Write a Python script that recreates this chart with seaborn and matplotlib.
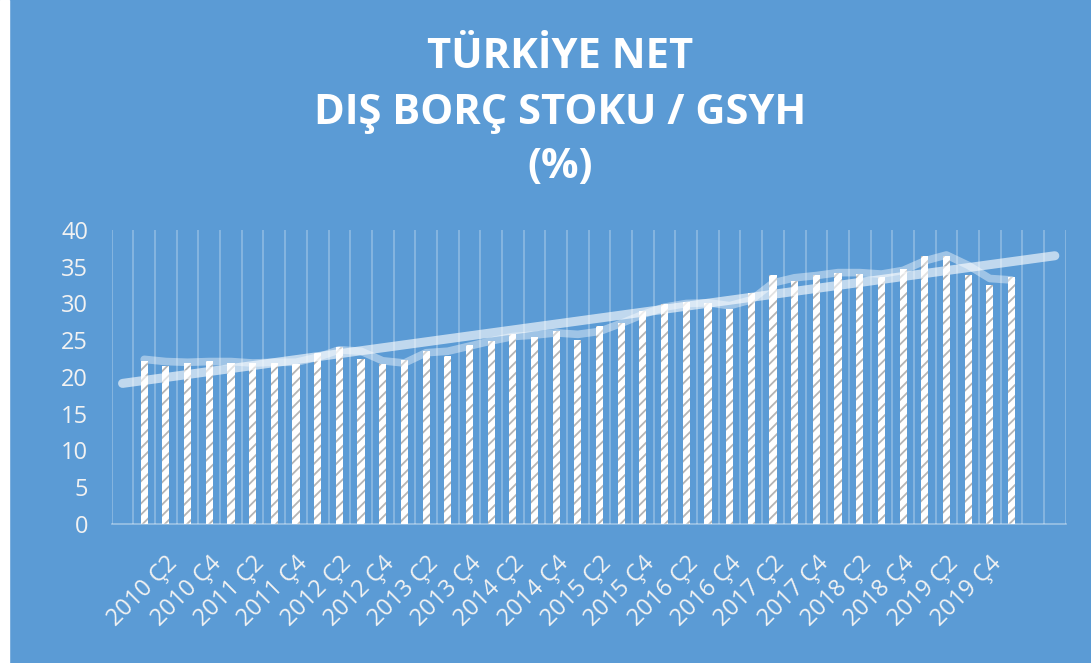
import numpy as np
import pandas as pd
import matplotlib
matplotlib.use('Agg')
import matplotlib.pyplot as plt
from matplotlib.patches import Rectangle
import seaborn as sns

sns.set_style('white')
plt.rcParams['font.family'] = ['Open Sans', 'DejaVu Sans']
plt.rcParams['hatch.linewidth'] = 1.3

bg = '#5B9BD5'
txt = '#F2F2F2'

# quarterly values, 2010 Ç1 .. 2020 Ç1 (slots 1..41)
bar_values = [22.2, 21.5, 21.9, 22.2, 21.9, 21.9, 21.9, 21.7, 23.2, 24.1,
              22.5, 21.8, 22.3, 23.5, 22.9, 24.4, 24.9, 25.9, 25.5, 26.3,
              25.1, 26.9, 27.3, 29.0, 29.9, 30.2, 30.0, 29.3, 31.4, 33.9,
              33.1, 33.9, 34.2, 34.0, 33.6, 34.7, 36.5, 36.5, 33.9, 32.5,
              33.6]
# smoothed line
line_values = [22.4, 22.1, 22.0, 22.1, 22.1, 21.9, 22.0, 22.0, 22.7, 23.7,
               23.5, 22.2, 21.9, 23.3, 23.5, 24.2, 24.9, 25.5, 25.7, 26.0,
               25.8, 26.2, 27.3, 28.5, 29.5, 30.0, 30.1, 29.7, 30.5, 32.8,
               33.5, 33.8, 34.2, 34.2, 34.0, 34.5, 35.8, 36.6, 35.2, 33.4,
               33.2]
slots = list(range(1, 42))
tick_slots = list(range(2, 41, 2))
tick_labels = ['2010 Ç2', '2010 Ç4', '2011 Ç2', '2011 Ç4', '2012 Ç2',
               '2012 Ç4', '2013 Ç2', '2013 Ç4', '2014 Ç2', '2014 Ç4',
               '2015 Ç2', '2015 Ç4', '2016 Ç2', '2016 Ç4', '2017 Ç2',
               '2017 Ç4', '2018 Ç2', '2018 Ç4', '2019 Ç2', '2019 Ç4']
n_slots = 44  # one slot back, two forward for the trend

df = pd.DataFrame({'slot': slots, 'value': bar_values, 'line': line_values})

fig = plt.figure(figsize=(10.91, 6.63), dpi=100, facecolor=bg)
fig.patches.append(Rectangle((0, 0), 9 / 1091, 1, transform=fig.transFigure,
                             color='white', zorder=-1))
ax = fig.add_axes([0.1024, 0.2097, 0.8744, 0.4434])
ax.set_facecolor(bg)

sns.barplot(data=df, x='slot', y='value', native_scale=True, width=0.33,
            color='white', edgecolor='#B5B5B5', linewidth=0, hatch='///',
            saturation=1, ax=ax, zorder=2)
sns.lineplot(data=df, x='slot', y='line', color='white', alpha=0.42,
             linewidth=5.5, solid_capstyle='round', ax=ax, zorder=3)
ax.set_xlim(0, n_slots - 1)
sns.regplot(data=df, x='slot', y='value', scatter=False, ci=None,
            truncate=False, ax=ax,
            line_kws=dict(color='white', alpha=0.62, linewidth=6.5,
                          solid_capstyle='round', zorder=4))

ax.set_xlim(-0.5, n_slots - 0.5)
ax.set_ylim(0, 40)
ax.set_yticks(range(0, 41, 5))
ax.set_xticks(np.arange(-0.5, n_slots, 1), minor=True)
ax.grid(which='minor', axis='x', color='white', alpha=0.3, linewidth=1.2)
ax.set_xticks(tick_slots, tick_labels, rotation=45, ha='right',
              rotation_mode='anchor')
ax.tick_params(axis='x', which='both', length=0, pad=20, labelsize=17,
               labelcolor=txt)
ax.tick_params(axis='y', length=0, pad=17, labelsize=17, labelcolor=txt)
ax.set_xlabel('')
ax.set_ylabel('')
for s in ['top', 'right', 'left']:
    ax.spines[s].set_visible(False)
ax.spines['bottom'].set_color((1, 1, 1, 0.4))
ax.spines['bottom'].set_linewidth(1.2)

title_kw = dict(ha='center', va='center', fontsize=30, fontweight='bold',
                color='white')
fig.text(0.513, 0.913, 'TÜRKİYE NET', **title_kw)
fig.text(0.513, 0.829, 'DIŞ BORÇ STOKU / GSYH', **title_kw)
fig.text(0.513, 0.748, '(%)', **title_kw)

fig.savefig('out.png', dpi=100, facecolor=bg)
